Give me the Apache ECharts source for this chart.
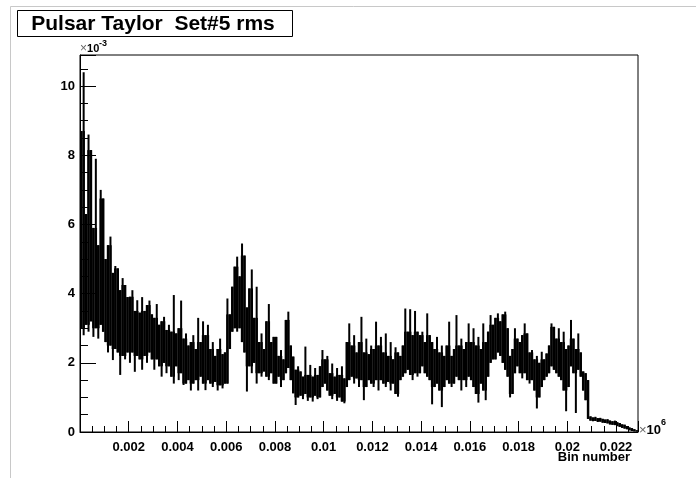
<!DOCTYPE html>
<html>
<head>
<meta charset="utf-8">
<title>Pulsar Taylor Set#5 rms</title>
<script src="https://cdn.jsdelivr.net/npm/echarts@6/dist/echarts.min.js"></script>
<style>
  html, body { margin: 0; padding: 0; background: #fff; }
  #chart { width: 696px; height: 478px; }
</style>
</head>
<body>
<div id="chart"></div>
<script>
// one column = 0.0001 x10^6 bins; values are rms in units of 1e-3
const binWidth = 0.0001
const xMax = 0.0229
const yMax = 10.9

// top of each column (max rms in that slice of bins)
const colHigh = [
  8.7, 10.4, 6.3, 8.6, 8.15, 5.9, 7.9, 5.4, 7.0, 6.75,
  5.0, 5.4, 5.65, 4.6, 4.8, 4.73, 4.1, 4.45, 4.25, 3.9,
  3.91, 4.1, 3.5, 3.81, 3.45, 3.9, 3.5, 3.67, 3.8, 3.4,
  3.3, 3.7, 3.1, 3.2, 3.33, 2.95, 3.1, 2.9, 3.96, 2.85,
  3.0, 3.8, 2.7, 2.85, 2.5, 2.6, 2.8, 2.4, 3.3, 2.6,
  3.2, 2.8, 3.1, 2.4, 2.6, 2.2, 2.4, 2.7, 2.25, 2.3,
  3.86, 3.4, 4.2, 4.78, 5.07, 4.5, 5.45, 5.1, 3.6, 4.15,
  4.7, 3.3, 4.2, 2.6, 2.85, 2.4, 3.2, 3.7, 2.6, 2.75,
  2.75, 2.2, 2.37, 2.1, 3.24, 3.48, 2.5, 2.18, 1.8, 1.9,
  1.75, 1.6, 2.47, 1.65, 1.94, 1.6, 1.85, 1.65, 1.9, 2.37,
  2.1, 2.2, 1.7, 1.98, 1.6, 1.85, 1.65, 1.9, 1.55, 2.6,
  3.14, 2.5, 2.8, 2.3, 2.6, 3.33, 2.3, 2.7, 2.25, 2.5,
  2.4, 3.19, 2.5, 2.75, 2.3, 2.85, 2.2, 2.6, 2.1, 2.45,
  2.3, 2.2, 2.5, 3.57, 2.9, 3.55, 2.8, 3.5, 2.9, 2.8,
  2.9, 2.6, 3.43, 2.8, 2.6, 2.4, 2.75, 2.3, 2.5, 2.2,
  2.5, 3.19, 2.2, 2.4, 3.38, 2.5, 2.7, 2.4, 2.6, 3.14,
  2.6, 3.0, 2.5, 2.75, 2.4, 3.14, 2.6, 2.9, 3.38, 3.1,
  3.3, 3.43, 3.2, 3.4, 3.48, 3.0, 2.2, 2.4, 3.0, 2.7,
  2.6, 2.8, 3.14, 2.85, 2.3, 2.37, 2.1, 2.2, 2.0, 2.32,
  2.1, 2.27, 2.5, 3.14, 3.04, 2.7, 3.0, 2.6, 2.9, 2.4,
  2.5, 3.24, 2.7, 2.4, 2.85, 2.3, 1.75, 1.7, 1.5, 0.45,
  0.42, 0.44, 0.40, 0.41, 0.38, 0.36, 0.37, 0.33, 0.31, 0.33,
  0.28, 0.26, 0.22, 0.21, 0.17, 0.13, 0.11, 0.08, 0.05
]

// bottom of each column (min rms in that slice of bins)
const colLow = [
  3.0, 2.8, 3.1, 2.9, 3.2, 2.75, 3.0, 2.7, 3.1, 2.9,
  2.6, 2.3, 2.5, 2.08, 2.4, 2.3, 1.65, 2.2, 2.1, 2.3,
  2.0, 2.3, 1.74, 2.2, 2.1, 1.8, 2.2, 2.0, 2.3, 2.1,
  1.8, 2.1, 1.9, 1.6, 2.0, 1.7, 1.9, 1.6, 1.4, 1.9,
  1.5, 1.7, 1.36, 1.4, 1.5, 1.2, 1.4, 1.5, 1.2, 1.6,
  1.4, 1.21, 1.5, 1.4, 1.3, 1.45, 1.2, 1.35, 1.26, 1.4,
  1.4, 2.4, 2.9, 3.0, 2.9, 3.0, 2.6, 2.3, 1.17, 1.9,
  1.7, 2.0, 1.4, 1.7, 1.6, 1.75, 1.6, 1.5, 1.7, 1.4,
  1.4, 1.6, 1.3, 1.5, 1.7, 1.85, 1.5, 1.12, 0.78, 1.0,
  1.05, 0.95, 1.1, 0.9, 1.0, 0.88, 1.05, 0.95, 1.0, 1.3,
  1.4, 1.2, 1.05, 0.95, 1.1, 0.9, 1.0, 0.88, 0.83, 1.3,
  1.5, 1.6, 1.4, 1.55, 1.3, 1.5, 0.92, 1.3, 1.5, 1.4,
  1.3, 1.5, 1.2, 1.5, 1.4, 1.3, 1.45, 1.2, 1.4, 1.1,
  1.02, 1.5, 1.6, 1.7, 1.8, 1.65, 1.5, 1.7, 1.6, 1.7,
  1.9, 1.7, 1.6, 1.5, 0.8, 1.3, 1.4, 1.2, 0.72, 1.3,
  1.5, 1.4, 1.3, 1.4, 1.6, 1.5, 1.2, 1.5, 1.3, 1.6,
  1.5, 1.3, 1.1, 0.85, 1.4, 1.2, 0.92, 1.6, 2.0, 2.1,
  2.1, 2.3, 2.2, 2.0, 1.8, 1.6, 1.0, 1.1, 1.7, 1.9,
  1.7, 1.55, 1.7, 1.5, 1.4, 1.5, 1.2, 0.68, 1.0, 1.3,
  1.5, 1.6, 1.7, 1.9, 1.8, 1.7, 1.6, 1.5, 1.2, 0.6,
  1.3, 1.9, 1.7, 0.55, 1.8, 1.6, 1.2, 0.92, 0.38, 0.33,
  0.31, 0.32, 0.29, 0.30, 0.27, 0.26, 0.25, 0.22, 0.21, 0.20,
  0.17, 0.15, 0.12, 0.10, 0.08, 0.05, 0.03, 0.02, 0.01
]

const columns = colHigh.map((h, i) => [i * binWidth, colLow[i], h])

const fontFamily = '"Liberation Sans", Arial, Helvetica, sans-serif'

// each column: a line from low to high, plus a full-width body
// where it overlaps a neighbour (so the dense core reads solid)
function renderColumn(params, api) {
  const i = params.dataIndex
  const n = colHigh.length
  const x0 = api.value(0)
  const lo = api.value(1)
  const hi = api.value(2)
  const pHi = i > 0 ? colHigh[i - 1] : colHigh[i + 1]
  const nHi = i < n - 1 ? colHigh[i + 1] : colHigh[i - 1]
  const pLo = i > 0 ? colLow[i - 1] : colLow[i + 1]
  const nLo = i < n - 1 ? colLow[i + 1] : colLow[i - 1]
  const bodyTop = Math.min(hi, Math.max(pHi, nHi))
  const bodyBot = Math.max(lo, Math.min(pLo, nLo))

  const left = api.coord([x0, 0])[0]
  const right = api.coord([x0 + binWidth, 0])[0]
  const mid = (left + right) / 2
  const yHi = api.coord([x0, hi])[1]
  const yLo = api.coord([x0, lo])[1]

  const children = [{
    type: 'rect',
    shape: { x: mid - 1, y: yHi, width: 2, height: Math.max(1, yLo - yHi) },
    style: { fill: '#000' }
  }]
  if (bodyTop > bodyBot) {
    const yTop = api.coord([x0, bodyTop])[1]
    const yBot = api.coord([x0, bodyBot])[1]
    children.push({
      type: 'rect',
      shape: { x: left, y: yTop, width: right - left, height: yBot - yTop },
      style: { fill: '#000' }
    })
  }
  return { type: 'group', children }
}

const chart = echarts.init(document.getElementById('chart'), null, { renderer: 'canvas' })

chart.setOption({
  animation: false,
  backgroundColor: '#fff',
  grid: {
    left: 80, right: 58, top: 55, bottom: 46,
    show: true, borderColor: '#000', borderWidth: 1, backgroundColor: 'transparent'
  },
  xAxis: {
    type: 'value',
    min: 0,
    max: xMax,
    interval: 0.002,
    axisLine: { show: true, onZero: false, lineStyle: { color: '#000', width: 1 } },
    axisTick: { show: true, inside: true, length: 11, lineStyle: { color: '#000' } },
    minorTick: { show: true, splitNumber: 4, length: 6, lineStyle: { color: '#000' } },
    splitLine: { show: false },
    minorSplitLine: { show: false },
    axisLabel: {
      color: '#000', fontWeight: 'bold', fontSize: 13, fontFamily, margin: 9,
      showMaxLabel: false,
      formatter: v => (v === 0 ? '' : String(parseFloat(v.toFixed(4))))
    }
  },
  yAxis: {
    type: 'value',
    min: 0,
    max: yMax,
    interval: 2,
    axisLine: { show: true, onZero: false, lineStyle: { color: '#000', width: 1 } },
    axisTick: { show: true, inside: true, length: 16, lineStyle: { color: '#000' } },
    minorTick: { show: true, splitNumber: 4, length: 8, lineStyle: { color: '#000' } },
    splitLine: { show: false },
    minorSplitLine: { show: false },
    axisLabel: {
      color: '#000', fontWeight: 'bold', fontSize: 13, fontFamily, margin: 5,
      showMaxLabel: false
    }
  },
  series: [{
    type: 'custom',
    renderItem: renderColumn,
    data: columns,
    encode: { x: 0, y: [1, 2] },
    clip: true,
    silent: true
  }],
  graphic: [
    // pad frame of the canvas
    {
      type: 'polyline', silent: true,
      shape: { points: [[10.5, 478], [10.5, 6.5], [696, 6.5]] },
      style: { stroke: '#c8c8c8', lineWidth: 1, fill: null }
    },
    // title box
    {
      type: 'rect', silent: true,
      shape: { x: 17.5, y: 10.5, width: 275, height: 26 },
      style: { fill: '#fff', stroke: '#000', lineWidth: 1 }
    },
    {
      type: 'text', silent: true, x: 153, y: 24,
      style: {
        text: 'Pulsar Taylor  Set#5 rms', fill: '#000', fontFamily,
        fontWeight: 'bold', fontSize: 21, align: 'center', verticalAlign: 'middle'
      }
    },
    // axis exponents
    {
      type: 'text', silent: true, x: 80, y: 49,
      style: {
        text: '{m|×}{b|10}', fontFamily, verticalAlign: 'middle',
        rich: {
          m: { fill: '#666', fontSize: 12, fontFamily },
          b: { fill: '#000', fontSize: 11, fontWeight: 'bold', fontFamily }
        }
      }
    },
    {
      type: 'text', silent: true, x: 99, y: 44,
      style: { text: '-3', fill: '#000', fontSize: 9, fontWeight: 'bold', fontFamily, verticalAlign: 'middle' }
    },
    {
      type: 'text', silent: true, x: 639, y: 430,
      style: {
        text: '{m|×}{b|10}', fontFamily, verticalAlign: 'middle',
        rich: {
          m: { fill: '#666', fontSize: 13, fontFamily },
          b: { fill: '#000', fontSize: 13, fontWeight: 'bold', fontFamily }
        }
      }
    },
    {
      type: 'text', silent: true, x: 661, y: 423,
      style: { text: '6', fill: '#000', fontSize: 9, fontWeight: 'bold', fontFamily, verticalAlign: 'middle' }
    },
    // axis title
    {
      type: 'text', silent: true, x: 630, y: 457,
      style: {
        text: 'Bin number', fill: '#000', fontFamily, fontWeight: 'bold',
        fontSize: 13, align: 'right', verticalAlign: 'middle'
      }
    }
  ]
})

window.addEventListener('resize', () => chart.resize())
</script>
</body>
</html>
